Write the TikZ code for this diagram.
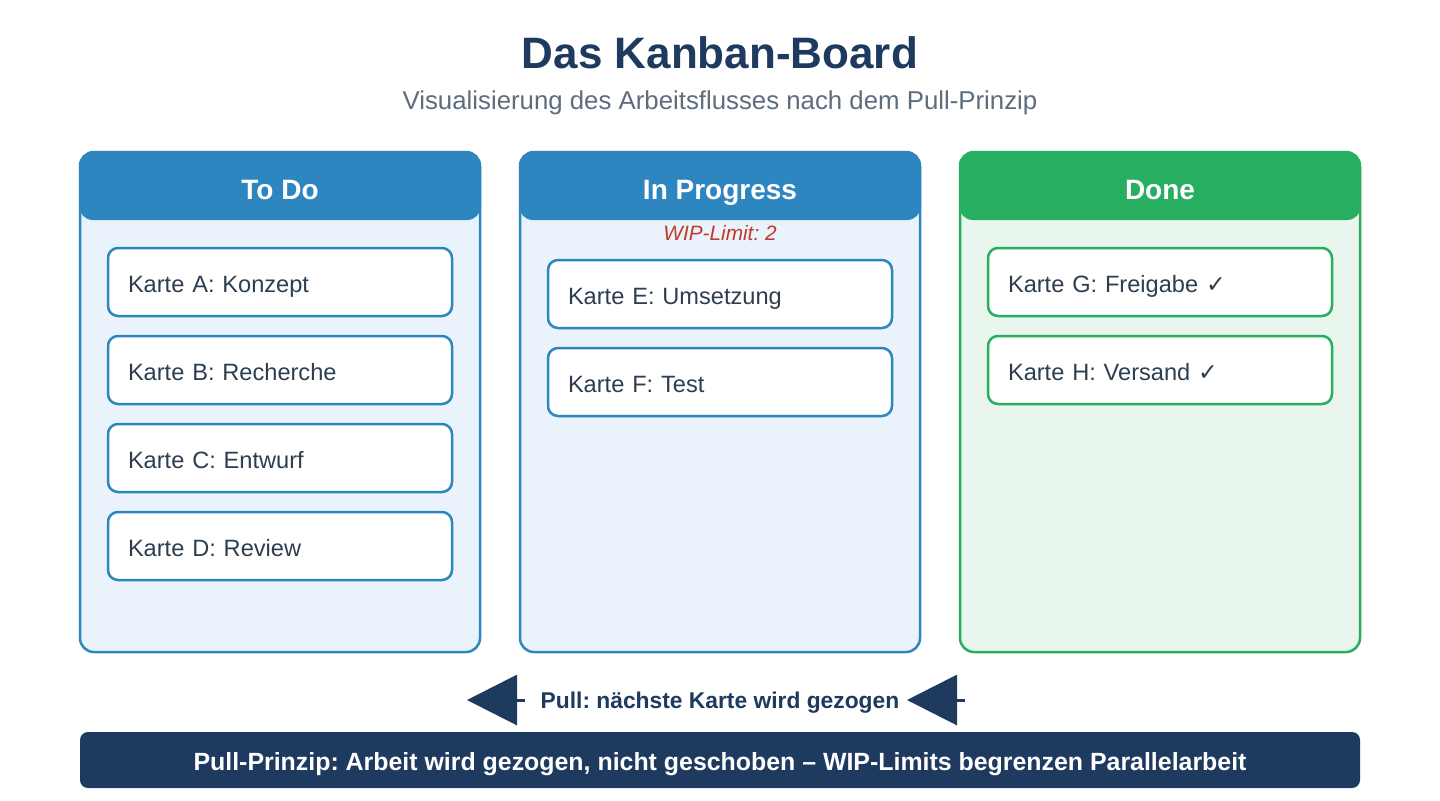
\documentclass[tikz,border=0pt]{standalone}
\usepackage{fontspec}
\setmainfont{Liberation Sans}
\newfontfamily\symfont{DejaVu Sans}
\usetikzlibrary{arrows.meta}
\frenchspacing
\definecolor{navy}{HTML}{1E3A5F}
\definecolor{colblue}{HTML}{2E86C1}
\definecolor{colgreen}{HTML}{27AE60}
\definecolor{bodyblue}{HTML}{EAF3FB}
\definecolor{bodygreen}{HTML}{E8F6EE}
\definecolor{textdark}{HTML}{2C3E50}
\definecolor{subgrey}{HTML}{5D6D7E}
\definecolor{wipred}{HTML}{C0392B}
\tikzset{
  colbody/.style={draw, line width=1.25pt, rounded corners=7pt, minimum width=200pt, minimum height=250pt, inner sep=0pt},
  colhead/.style={rounded corners=7pt, minimum width=201pt, minimum height=34pt, inner sep=0pt, text height=16pt, text depth=3pt, text=white, font=\bfseries\fontsize{14}{16}\selectfont},
  card/.style={draw, fill=white, line width=1.25pt, rounded corners=5pt, text width=152pt, inner xsep=10pt, inner ysep=0pt, minimum height=34pt, text height=12pt, text depth=2pt, align=left, text=textdark, font=\fontsize{11.8}{13}\selectfont},
  pullarrow/.style={draw=navy, line width=1.5pt, -{Triangle[length=25pt,width=25pt]}, color=navy},
}
\begin{document}
\begin{tikzpicture}[x=0.5pt,y=-0.5pt]
\useasboundingbox[fill=white] (0,0) rectangle (1440,800);
% title
\node[font=\bfseries\fontsize{22}{26}\selectfont, text=navy] (title) at (720,53) {Das Kanban-Board};
\node[font=\fontsize{12.9}{15}\selectfont, text=subgrey] (subtitle) at (720,103) {Visualisierung des Arbeitsflusses nach dem Pull-Prinzip};
% columns
\node[colbody, draw=colblue, fill=bodyblue] (todo) at (280,402) {};
\node[colhead, fill=colblue] (todoH) at (280,186) {To Do};
\node[colbody, draw=colblue, fill=bodyblue] (prog) at (720,402) {};
\node[colhead, fill=colblue] (progH) at (720,186) {In Progress};
\node[colbody, draw=colgreen, fill=bodygreen] (done) at (1160,402) {};
\node[colhead, fill=colgreen] (doneH) at (1160,186) {Done};
% WIP
\node[text=wipred, font=\itshape\fontsize{10.4}{12}\selectfont] (wip) at (720,233) {WIP-Limit: 2};
% cards To Do
\node[card, draw=colblue] (cA) at (280,282) {Karte A: Konzept};
\node[card, draw=colblue] (cB) at (280,370) {Karte B: Recherche};
\node[card, draw=colblue] (cC) at (280,458) {Karte C: Entwurf};
\node[card, draw=colblue] (cD) at (280,546) {Karte D: Review};
% cards In Progress
\node[card, draw=colblue] (cE) at (720,294) {Karte E: Umsetzung};
\node[card, draw=colblue] (cF) at (720,382) {Karte F: Test};
% cards Done
\node[card, draw=colgreen] (cG) at (1160,282) {Karte G: Freigabe {\symfont\bfseries ✓}};
\node[card, draw=colgreen] (cH) at (1160,370) {Karte H: Versand {\symfont\bfseries ✓}};
% pull arrows
\node[text=navy, text height=11.3pt, text depth=2.4pt, font=\bfseries\fontsize{11.4}{13}\selectfont] (pull) at (720,700) {Pull: nächste Karte wird gezogen};
\coordinate (l1) at (525,700);
\coordinate (l2) at (467,700);
\coordinate (r1) at (965,700);
\coordinate (r2) at (907,700);
\draw[pullarrow] (l1) -- (l2);
\draw[pullarrow] (r1) -- (r2);
% bottom bar
\node[fill=navy, rounded corners=4pt, minimum width=640pt, minimum height=28pt, inner sep=0pt, text height=12.5pt, text depth=2.5pt, text=white, font=\bfseries\fontsize{12.45}{14}\selectfont] (bar) at (720,760) {Pull-Prinzip: Arbeit wird gezogen, nicht geschoben – WIP-Limits begrenzen Parallelarbeit};
\end{tikzpicture}
\end{document}
